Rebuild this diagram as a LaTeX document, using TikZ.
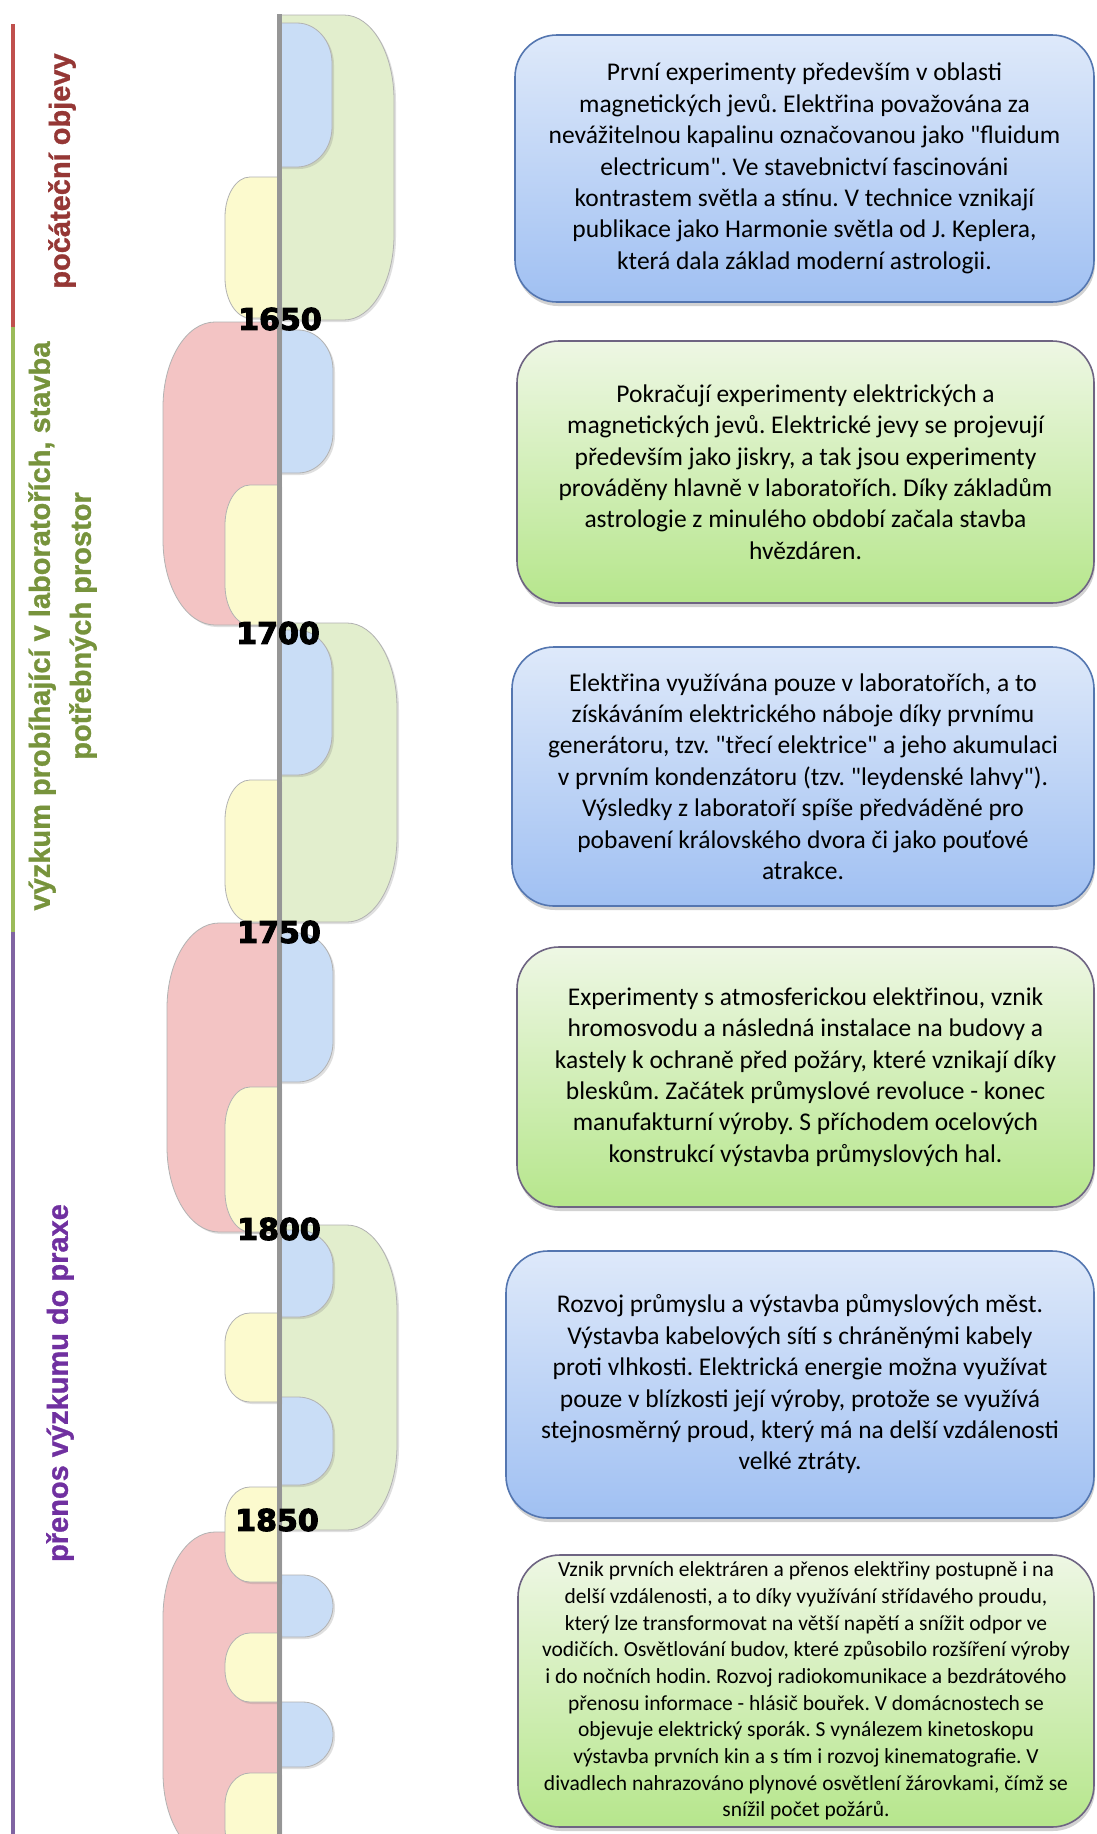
\documentclass[tikz,border=0pt]{standalone}
\usepackage{fontspec}
\setmainfont{Carlito}[Ligatures=TeXOff]
\newfontfamily\labfont{Liberation Sans Bold}[FakeBold=1]
\newfontfamily\yrfont{DejaVu Sans Bold}[FakeBold=3.5]
\usetikzlibrary{shadows}
\definecolor{shgreen}{RGB}{226,238,205}
\definecolor{shblue}{RGB}{201,221,246}
\definecolor{shyellow}{RGB}{252,250,206}
\definecolor{shred}{RGB}{243,196,196}
\definecolor{bxbluetop}{RGB}{222,233,250}
\definecolor{bxbluebot}{RGB}{160,192,242}
\definecolor{bxblueline}{RGB}{84,118,176}
\definecolor{bxgreentop}{RGB}{238,247,228}
\definecolor{bxgreenbot}{RGB}{182,230,140}
\definecolor{bxgreenline}{RGB}{110,100,130}
\definecolor{barred}{RGB}{192,80,77}
\definecolor{bargreen}{RGB}{155,187,89}
\definecolor{barpurple}{RGB}{128,100,162}
\definecolor{txtred}{RGB}{149,55,53}
\definecolor{txtgreen}{RGB}{119,147,60}
\definecolor{txtpurple}{RGB}{112,48,160}
\definecolor{axisgray}{RGB}{150,150,150}
\newcommand\lhalf[6]{%
  \path[timeshape, fill=#1] (280,-#3) -- ({#2+#5},-#3)
    arc[start angle=90,end angle=180,x radius=#5pt,y radius=#6pt]
    -- (#2,{-#4+#6})
    arc[start angle=180,end angle=270,x radius=#5pt,y radius=#6pt]
    -- (280,-#4) -- cycle;}
\newcommand\rhalf[6]{%
  \path[timeshape, fill=#1] (278,-#3) -- ({#2-#5},-#3)
    arc[start angle=90,end angle=0,x radius=#5pt,y radius=#6pt]
    -- (#2,{-#4+#6})
    arc[start angle=0,end angle=-90,x radius=#5pt,y radius=#6pt]
    -- (278,-#4) -- cycle;}
\tikzset{
  timeshape/.style={draw=black!30, line width=0.8pt,
    drop shadow={opacity=0.25, shadow xshift=2pt, shadow yshift=-2pt}},
  textbox/.style={rounded corners=42pt, line width=1.6pt, align=center,
    inner sep=0pt, font=\fontsize{25.5}{31.4}\selectfont,
    drop shadow={opacity=0.35, shadow xshift=1pt, shadow yshift=-4pt}},
  bluebox/.style={textbox, draw=bxblueline, top color=bxbluetop, bottom color=bxbluebot},
  greenbox/.style={textbox, draw=bxgreenline, top color=bxgreentop, bottom color=bxgreenbot},
  yearlbl/.style={font=\yrfont\fontsize{30}{30}\selectfont, text=black, inner sep=0pt},
  periodlbl/.style={rotate=90, align=center, font=\labfont\fontsize{29}{41}\selectfont, inner sep=0pt},
  bar/.style={line width=4pt}
}
\begin{document}
\frenchspacing
\begin{tikzpicture}[x=1pt,y=1pt]
\useasboundingbox (0,0) rectangle (1097,-1834);
\clip (0,0) rectangle (1097,-1834);
\fill[white] (0,0) rectangle (1097,-1834);

% period bars
\draw[bar, barred] (13,-24) -- (13,-327);
\draw[bar, bargreen] (13,-327) -- (13,-932);
\draw[bar, barpurple] (13,-932) -- (13,-1834);

% period labels
\node[periodlbl, text=txtred] (p1) at (62,-171) {počáteční objevy};
\node[periodlbl, text=txtgreen] (p2) at (62.5,-626) {výzkum probíhající v laboratořích, stavba\\potřebných prostor};
\node[periodlbl, text=txtpurple] (p3) at (60,-1383) {přenos výzkumu do praxe};

% green (right, large)
\rhalf{shgreen}{394}{15}{320}{50}{85}
\rhalf{shgreen}{397}{623}{922}{50}{85}
\rhalf{shgreen}{397}{1225}{1530}{50}{85}
% blue (right, small)
\rhalf{shblue}{332}{23}{167}{35}{40}
\rhalf{shblue}{333}{330}{473}{35}{40}
\rhalf{shblue}{332}{630}{775}{35}{40}
\rhalf{shblue}{333}{933}{1082}{35}{40}
\rhalf{shblue}{333}{1230}{1317}{35}{35}
\rhalf{shblue}{333}{1397}{1485}{35}{35}
\rhalf{shblue}{333}{1575}{1637}{30}{31}
\rhalf{shblue}{333}{1702}{1767}{30}{32}
% red (left, large)
\lhalf{shred}{163}{322}{625}{52}{85}
\lhalf{shred}{167}{923}{1232}{52}{85}
\lhalf{shred}{163}{1532}{1858}{52}{85}
% yellow (left, small)
\lhalf{shyellow}{225}{177}{318}{25}{40}
\lhalf{shyellow}{225}{485}{625}{25}{40}
\lhalf{shyellow}{225}{780}{922}{25}{40}
\lhalf{shyellow}{225}{1087}{1232}{25}{40}
\lhalf{shyellow}{225}{1313}{1402}{25}{30}
\lhalf{shyellow}{225}{1487}{1582}{25}{32}
\lhalf{shyellow}{225}{1633}{1702}{25}{32}
\lhalf{shyellow}{225}{1773}{1860}{25}{32}

% axis
\coordinate (axtop) at (279,-14);
\coordinate (axbot) at (279,-1834);
\draw[line width=5pt, axisgray] (axtop) -- (axbot);

% years
\node[yearlbl] (y1650) at (280,-319) {1650};
\node[yearlbl] (y1700) at (278,-633) {1700};
\node[yearlbl] (y1750) at (279,-932) {1750};
\node[yearlbl] (y1800) at (279,-1229) {1800};
\node[yearlbl] (y1850) at (277,-1520) {1850};

% text boxes
\node[bluebox, minimum width=579pt, minimum height=267pt] (b1) at (804.5,-168.5) {První experimenty především v oblasti\\magnetických jevů. Elektřina považována za\\nevážitelnou kapalinu označovanou jako "fluidum\\electricum". Ve stavebnictví fascinováni\\kontrastem světla a stínu. V technice vznikají\\publikace jako Harmonie světla od J. Keplera,\\která dala základ moderní astrologii.};
\node[greenbox, minimum width=577pt, minimum height=262pt] (b2) at (805.5,-472) {Pokračují experimenty elektrických a\\magnetických jevů. Elektrické jevy se projevují\\především jako jiskry, a tak jsou experimenty\\prováděny hlavně v laboratořích. Díky základům\\astrologie z minulého období začala stavba\\hvězdáren.};
\node[bluebox, minimum width=582pt, minimum height=259pt] (b3) at (803,-776.5) {Elektřina využívána pouze v laboratořích, a to\\získáváním elektrického náboje díky prvnímu\\generátoru, tzv. "třecí elektrice" a jeho akumulaci\\v prvním kondenzátoru (tzv. "leydenské lahvy").\\Výsledky z laboratoří spíše předváděné pro\\pobavení královského dvora či jako pouťové\\atrakce.};
\node[greenbox, minimum width=577pt, minimum height=260pt] (b4) at (805.5,-1077) {Experimenty s atmosferickou elektřinou, vznik\\hromosvodu a následná instalace na budovy a\\kastely k ochraně před požáry, které vznikají díky\\bleskům. Začátek průmyslové revoluce - konec\\manufakturní výroby. S příchodem ocelových\\konstrukcí výstavba průmyslových hal.};
\node[bluebox, minimum width=588pt, minimum height=267pt] (b5) at (800,-1384.5) {Rozvoj průmyslu a výstavba půmyslových měst.\\Výstavba kabelových sítí s chráněnými kabely\\proti vlhkosti. Elektrická energie možna využívat\\pouze v blízkosti její výroby, protože se využívá\\stejnosměrný proud, který má na delší vzdálenosti\\velké ztráty.};
\node[greenbox, minimum width=576pt, minimum height=272pt, font=\fontsize{21.5}{26.7}\selectfont] (b6) at (806,-1691) {Vznik prvních elektráren a přenos elektřiny postupně i na\\delší vzdálenosti, a to díky využívání střídavého proudu,\\který lze transformovat na větší napětí a snížit odpor ve\\vodičích. Osvětlování budov, které způsobilo rozšíření výroby\\i do nočních hodin. Rozvoj radiokomunikace a bezdrátového\\přenosu informace - hlásič bouřek. V domácnostech se\\objevuje elektrický sporák. S vynálezem kinetoskopu\\výstavba prvních kin a s tím i rozvoj kinematografie. V\\divadlech nahrazováno plynové osvětlení žárovkami, čímž se\\snížil počet požárů.};
\end{tikzpicture}
\end{document}
